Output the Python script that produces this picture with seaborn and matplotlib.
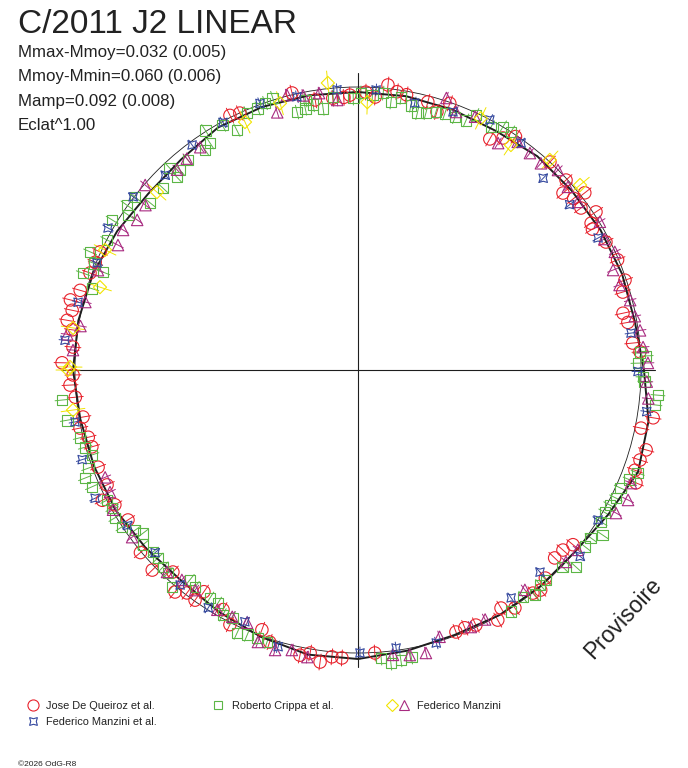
import numpy as np
import pandas as pd
import seaborn as sns
import matplotlib.pyplot as plt
from matplotlib.patches import Circle

sns.set_style("white")
plt.rcParams["font.family"] = ["Liberation Sans", "DejaVu Sans"]

W, H = 688, 768
CX, CY = 358, 370  # pixel position of the pole

# phase angle (deg, clockwise from top) and plotted radius, per observer
queiroz_phase = [1.6, 6, 8, 10, 14.6, 17, 19, 29.7, 32, 34, 42.7, 47.6, 49.2,
                 51.5, 52, 54, 56.4, 57.8, 59, 62.7, 67, 71.4, 73.6, 77.9, 80,
                 84.4, 86.3, 99.2, 101.6, 105.5, 107.7, 109.9, 112.1, 129.1,
                 131.3, 133.7, 138, 140.3, 141.9, 146.6, 149, 150.8, 155.2,
                 157.5, 159.5, 176.6, 183.2, 185.2, 187.4, 189.6, 191.5, 198,
                 200.3, 206.7, 209.4, 214.8, 215.3, 217.5, 219.5, 222.5, 225.8,
                 230, 236.9, 241, 243, 245.4, 249.5, 253.9, 256, 258.2, 260.3,
                 264.5, 267, 269, 271.4, 274.6, 278, 279.7, 281.8, 283.7, 286,
                 289.9, 292.3, 294.6, 333.3, 335.3, 346.6, 351, 354.7, 357,
                 358.3, 3.6]
queiroz_radius = [278, 286.6, 281, 279.5, 277, 270, 282, 266, 273.6, 281.6,
                  283, 281.7, 270.8, 275.6, 287.8, 275.6, 285.7, 275.5, 273.5,
                  279, 282, 281.7, 276, 271, 274, 276, 282.6, 299, 289, 299,
                  296, 294.5, 300, 277, 272.8, 272, 280, 286, 283.5, 285,
                  277.7, 286.5, 281, 279, 279.7, 283.5, 288.4, 288, 294.5, 287,
                  291, 286, 277, 285, 275, 270, 282, 281, 287.7, 274, 287, 284,
                  274.6, 278, 287, 276, 277.5, 277, 278, 284, 279, 284, 288.4,
                  285, 296, 286, 288.5, 295, 292, 296, 289, 285, 284, 283.7,
                  285, 282.8, 284.8, 273.4, 273, 273, 275, 273.5]

crippa_phase = [0.6, 3, 5.2, 7, 9, 11.3, 13, 14.8, 16.8, 18.7, 21, 23.4, 24.8,
                28.7, 30.8, 32.7, 86.5, 87.2, 88.6, 91.4, 92.3, 94.8, 96.7,
                110.2, 112, 114.2, 116.4, 118.2, 120, 122, 124, 125.8, 127.9,
                132.1, 133.9, 138.2, 139.7, 141.8, 144, 147.7, 169.5, 171.6,
                173.6, 175.4, 198.5, 200.6, 202.7, 204.7, 206.9, 208.9, 211,
                213, 216.9, 218.7, 220.6, 223.1, 224.7, 226.8, 228.4, 230.9,
                232.8, 234.3, 236.4, 238.7, 240.7, 242.6, 246.3, 248.4, 250,
                252.3, 254.2, 256.3, 260.2, 264.2, 287, 289.4, 291, 292, 293.8,
                297.4, 301.4, 304, 305.5, 307.8, 308.8, 313, 316.8, 317, 318.3,
                321, 325.2, 326.9, 327.5, 331, 333.2, 336.6, 339, 340.8, 342.6,
                346.7, 348.6, 349, 350.4, 352.4, 354.8, 359]
crippa_radius = [277, 275.4, 278, 270, 276, 270, 264, 266, 269.7, 271, 271,
                 272, 281, 277, 283, 283, 282.5, 288.5, 280, 285, 287, 301,
                 299, 298, 293, 288, 288, 285.9, 285, 286.6, 295, 287, 287.7,
                 293.8, 284, 281.8, 281.7, 286, 280.6, 286, 292, 293, 295, 289,
                 286.8, 286.4, 287, 289.5, 278, 279.7, 272, 271.8, 271.4, 269,
                 285.8, 278, 277, 274.5, 274, 277, 270, 274.5, 283.5, 284.5,
                 282, 282.7, 290.6, 293.6, 287, 279, 283.6, 286, 295, 297.5,
                 278, 291.6, 273, 284, 292.8, 282.7, 288, 277, 284, 282, 266.7,
                 266.7, 264.6, 276, 267.7, 270, 268, 271, 284, 280, 268.8, 280,
                 280, 282.7, 285, 265, 267, 275, 269, 264, 274, 272]

manzini_tri_phase = [18, 20.8, 24.8, 31.7, 35, 38.4, 41.5, 45, 48.9, 52.6,
                     58.5, 62, 65.3, 68.6, 72, 75.6, 79, 82, 85.4, 88.6, 92.3,
                     95.6, 112.5, 115.7, 119, 129.3, 132.7, 142.8, 153, 156.3,
                     163, 166.5, 169.7, 173, 190, 193.3, 196.5, 200.2, 203.7,
                     207, 210.4, 216.5, 220, 223.4, 233.5, 240.3, 243.8, 247,
                     274, 277, 279, 284, 291, 297.5, 300.8, 304.2, 307.8, 311,
                     317.9, 321, 324.7, 342.6, 345.5, 348.7, 352, 355.6]
manzini_tri_radius = [286, 276, 279, 266.7, 278.5, 276.8, 276, 282.8, 278.6,
                      276.8, 283.7, 279, 282.7, 274, 275, 281, 282, 284.8, 286,
                      290, 289, 291.7, 295.5, 299.7, 295, 284, 283, 276, 280,
                      280.7, 279, 291, 289.7, 287, 291.5, 287.7, 292, 289.8,
                      276, 277, 278, 273.8, 274, 278, 281, 282, 276.4, 274.7,
                      285.7, 293, 281, 281, 278.6, 270.6, 273.5, 267, 269, 282,
                      270, 272, 273, 270, 284, 280, 279.6, 270.8]

manzini_dia_phase = [2, 26, 34.2, 42.4, 50.2, 262, 270, 270.6, 278.4, 287.8,
                     295.4, 311.5, 335.5, 343.7, 354]
manzini_dia_radius = [268, 280, 272, 284.5, 289, 287.8, 290, 288, 288, 271,
                      280, 268.5, 272.5, 278, 288.6]

manzini_etal_phase = [3.7, 12, 20.2, 27.8, 35.7, 44, 52, 61.2, 82.3, 90.3,
                      98.2, 122, 130, 138, 146.1, 164, 172.2, 179.6, 196.1,
                      204.2, 212.2, 219.6, 228, 236, 244, 252, 259.6, 275.8,
                      283.6, 292.3, 299.6, 307.6, 315.3, 323.6, 331.4, 339.8,
                      347.4, 355.7]
manzini_etal_radius = [280.6, 273, 275, 282.7, 279.5, 266.6, 268.6, 274,
                       275.5, 280, 291.7, 283, 290, 272, 274.6, 284, 280.6, 283,
                       288, 276, 281, 279, 273, 278, 292.5, 290, 287.7, 294.5,
                       288, 282, 287.5, 283.8, 274, 279.6, 282, 284, 280, 281]

# fitted light curve, every 10 deg of phase
fit_phase = list(range(0, 360, 10))
fit_radius = [278, 278, 277, 276, 279, 279, 280, 281, 281, 286, 295, 298,
              289, 283, 283, 283, 282, 285, 289, 289, 284, 279, 275, 277,
              280, 281, 282, 285, 284, 282, 278, 274, 275, 280, 280, 279]
mean_radius = 283
cross_half = 297

series = [
    ("Jose De Queiroz et al.", queiroz_phase, queiroz_radius,
     "#e8222c", "o", 80, 8),
    ("Roberto Crippa et al.", crippa_phase, crippa_radius,
     "#5cb646", "s", 58, 7),
    ("Federico Manzini", manzini_tri_phase, manzini_tri_radius,
     "#a82a80", "^", 68, 6),
    ("Federico Manzini et al.", manzini_etal_phase, manzini_etal_radius,
     "#34489e", (4, 1, 45), 75, 6),
    ("Federico Manzini ", manzini_dia_phase, manzini_dia_radius,
     "#f2e400", "D", 45, 12),
]


def polar_frame(phase, radius):
    """Turns phase/radius lists into a frame with cartesian columns"""
    df = pd.DataFrame({"phase": phase, "radius": radius})
    rad = np.deg2rad(df["phase"])
    df["x"] = df["radius"] * np.sin(rad)
    df["y"] = df["radius"] * np.cos(rad)
    return df


def px(x, y):
    """Pixel position (from top-left) to data position"""
    return x - CX, CY - y


fig = plt.figure(figsize=(W / 100, H / 100), dpi=100)
ax = fig.add_axes([0, 0, 1, 1])
ax.set_axis_off()

ink = "#1e1e1e"
ax.plot([-cross_half, cross_half], [0, 0], color=ink, lw=0.8)
ax.plot([0, 0], [-cross_half, cross_half], color=ink, lw=0.8)
ax.add_patch(Circle((0, 0), mean_radius, fill=False, color=ink, lw=0.6))

fit = polar_frame(fit_phase + fit_phase[:1], fit_radius + fit_radius[:1])
ax.plot(fit["x"], fit["y"], color=ink, lw=1.4, zorder=3)

for name, phase, radius, color, marker, size, err in series:
    df = polar_frame(phase, radius)
    rad = np.deg2rad(df["phase"].to_numpy())
    r = df["radius"].to_numpy()
    gap = np.full_like(r, np.nan)
    xs = np.column_stack([(r - err) * np.sin(rad), (r + err) * np.sin(rad),
                          gap]).ravel()
    ys = np.column_stack([(r - err) * np.cos(rad), (r + err) * np.cos(rad),
                          gap]).ravel()
    ax.plot(xs, ys, color=color, lw=0.7, zorder=2)
    sns.scatterplot(data=df, x="x", y="y", marker=marker, s=size,
                    color=color, ax=ax, legend=False, zorder=4)
    coll = ax.collections[-1]
    coll.set_facecolors("none")
    coll.set_edgecolors(color)
    coll.set_linewidths(0.8)

ax.set_xlim(-CX, W - CX)
ax.set_ylim(-(H - CY), CY)

# header
ax.text(*px(18, 33), "C/2011 J2 LINEAR", fontsize=24, color="#222222",
        va="baseline")
stats = ["Mmax-Mmoy=0.032 (0.005)", "Mmoy-Mmin=0.060 (0.006)",
         "Mamp=0.092 (0.008)", "Eclat^1.00"]
for i, line in enumerate(stats):
    ax.text(*px(18, 57 + 24.5 * i), line, fontsize=12.2, color="#222222",
            va="baseline")

ax.text(*px(623, 618), "Provisoire", fontsize=16.5, rotation=47,
        rotation_mode="anchor", ha="center", va="center", color="#222222")

# legend
legend_marks = [(33, 705, "o", "#e8222c", 8), (218, 705, "s", "#5cb646", 6),
                (392, 705, "D", "#f2e400", 6), (404, 705, "^", "#a82a80", 7),
                (33, 721, (4, 1, 45), "#34489e", 8)]
for x, y, m, c, ms in legend_marks:
    ax.plot(*px(x, y), marker=m, ms=ms, mfc="none", mec=c, mew=0.8)
legend_text = [(46, 709, "Jose De Queiroz et al."),
               (232, 709, "Roberto Crippa et al."),
               (417, 709, "Federico Manzini"),
               (46, 725, "Federico Manzini et al.")]
for x, y, t in legend_text:
    ax.text(*px(x, y), t, fontsize=7.9, color="#222222", va="baseline")
ax.text(*px(18, 766), "©2026 OdG-R8", fontsize=6, color="#222222",
        va="baseline")

fig.savefig("out.png", dpi=100)
